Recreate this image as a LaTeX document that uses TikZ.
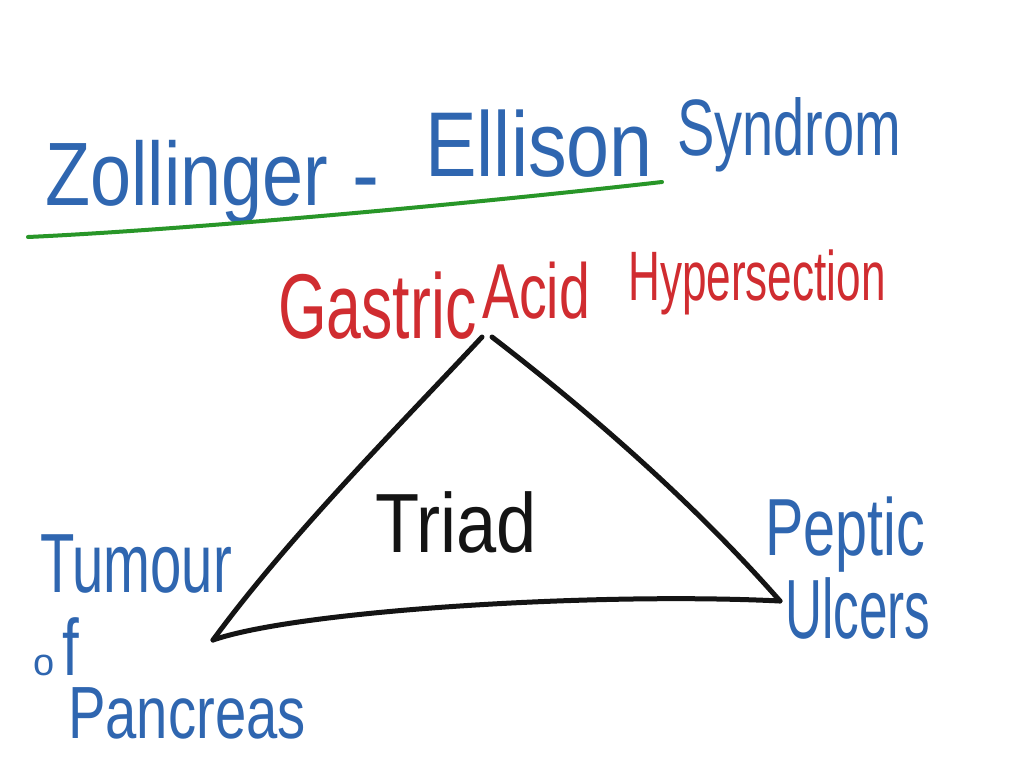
\documentclass[tikz,border=0pt]{standalone}
\usepackage{fontspec}
\setmainfont{Liberation Sans}
\definecolor{inkblue}{RGB}{47,102,176}
\definecolor{inkred}{RGB}{208,44,48}
\definecolor{inkgreen}{RGB}{40,150,40}
\definecolor{inkblack}{RGB}{20,20,20}
\newcommand{\hw}[3]{\fontsize{#1}{#1}\selectfont\scalebox{#2}[1]{#3}}
\tikzset{
  lbl/.style={inner sep=0pt, anchor=base west},
  stroke/.style={line width=5pt, line cap=round, line join=round, draw=inkblack},
}
\begin{document}
\begin{tikzpicture}[x=1pt,y=-1pt]
\useasboundingbox[fill=white] (0,0) rectangle (1024,768);
% title
\node[lbl, text=inkblue] (zoll) at (45,205) {\hw{90}{0.82}{Zollinger}};
\node[lbl, text=inkblue] (dash) at (352,205) {\hw{90}{0.9}{-}};
\node[lbl, text=inkblue] (ellison) at (425,176) {\hw{92}{0.84}{Ellison}};
\node[lbl, text=inkblue] (synd) at (677,155) {\hw{80}{0.70}{Syndrom}};
\coordinate (g1) at (28,237);
\coordinate (g2) at (662,182);
\draw[line width=4pt, line cap=round, draw=inkgreen] (g1) .. controls (180,230) and (450,206) .. (g2);
% red heading
\node[lbl, text=inkred] (gastric) at (278,338) {\hw{92}{0.68}{Gastric}};
\node[lbl, text=inkred] (acid) at (482,318) {\hw{78}{0.71}{Acid}};
\node[lbl, text=inkred] (hyper) at (628,300) {\hw{70}{0.63}{Hypersection}};
% triangle
\coordinate (apexL) at (482,337);
\coordinate (apexR) at (492,337);
\coordinate (bl) at (213,640);
\coordinate (br) at (780,601);
\draw[stroke] (apexL) .. controls (400,425) and (290,535) .. (bl);
\draw[stroke] (bl) .. controls (300,610) and (600,592) .. (br);
\draw[stroke] (apexR) .. controls (600,420) and (700,510) .. (br);
\node[lbl, text=inkblack] (triad) at (375,552) {\hw{84}{0.86}{Triad}};
% corners
\node[lbl, text=inkblue] (peptic) at (765,555) {\hw{81}{0.71}{Peptic}};
\node[lbl, text=inkblue] (ulcers) at (785,638) {\hw{84}{0.61}{Ulcers}};
\node[lbl, text=inkblue] (tumour) at (40,592) {\hw{84}{0.67}{Tumour}};
\node[lbl, text=inkblue] (of) at (33,675) {{\fontsize{38}{38}\selectfont o}\hspace{8pt}\hw{80}{0.75}{f}};
\node[lbl, text=inkblue] (pancreas) at (68,738) {\hw{74}{0.76}{Pancreas}};
\end{tikzpicture}
\end{document}
